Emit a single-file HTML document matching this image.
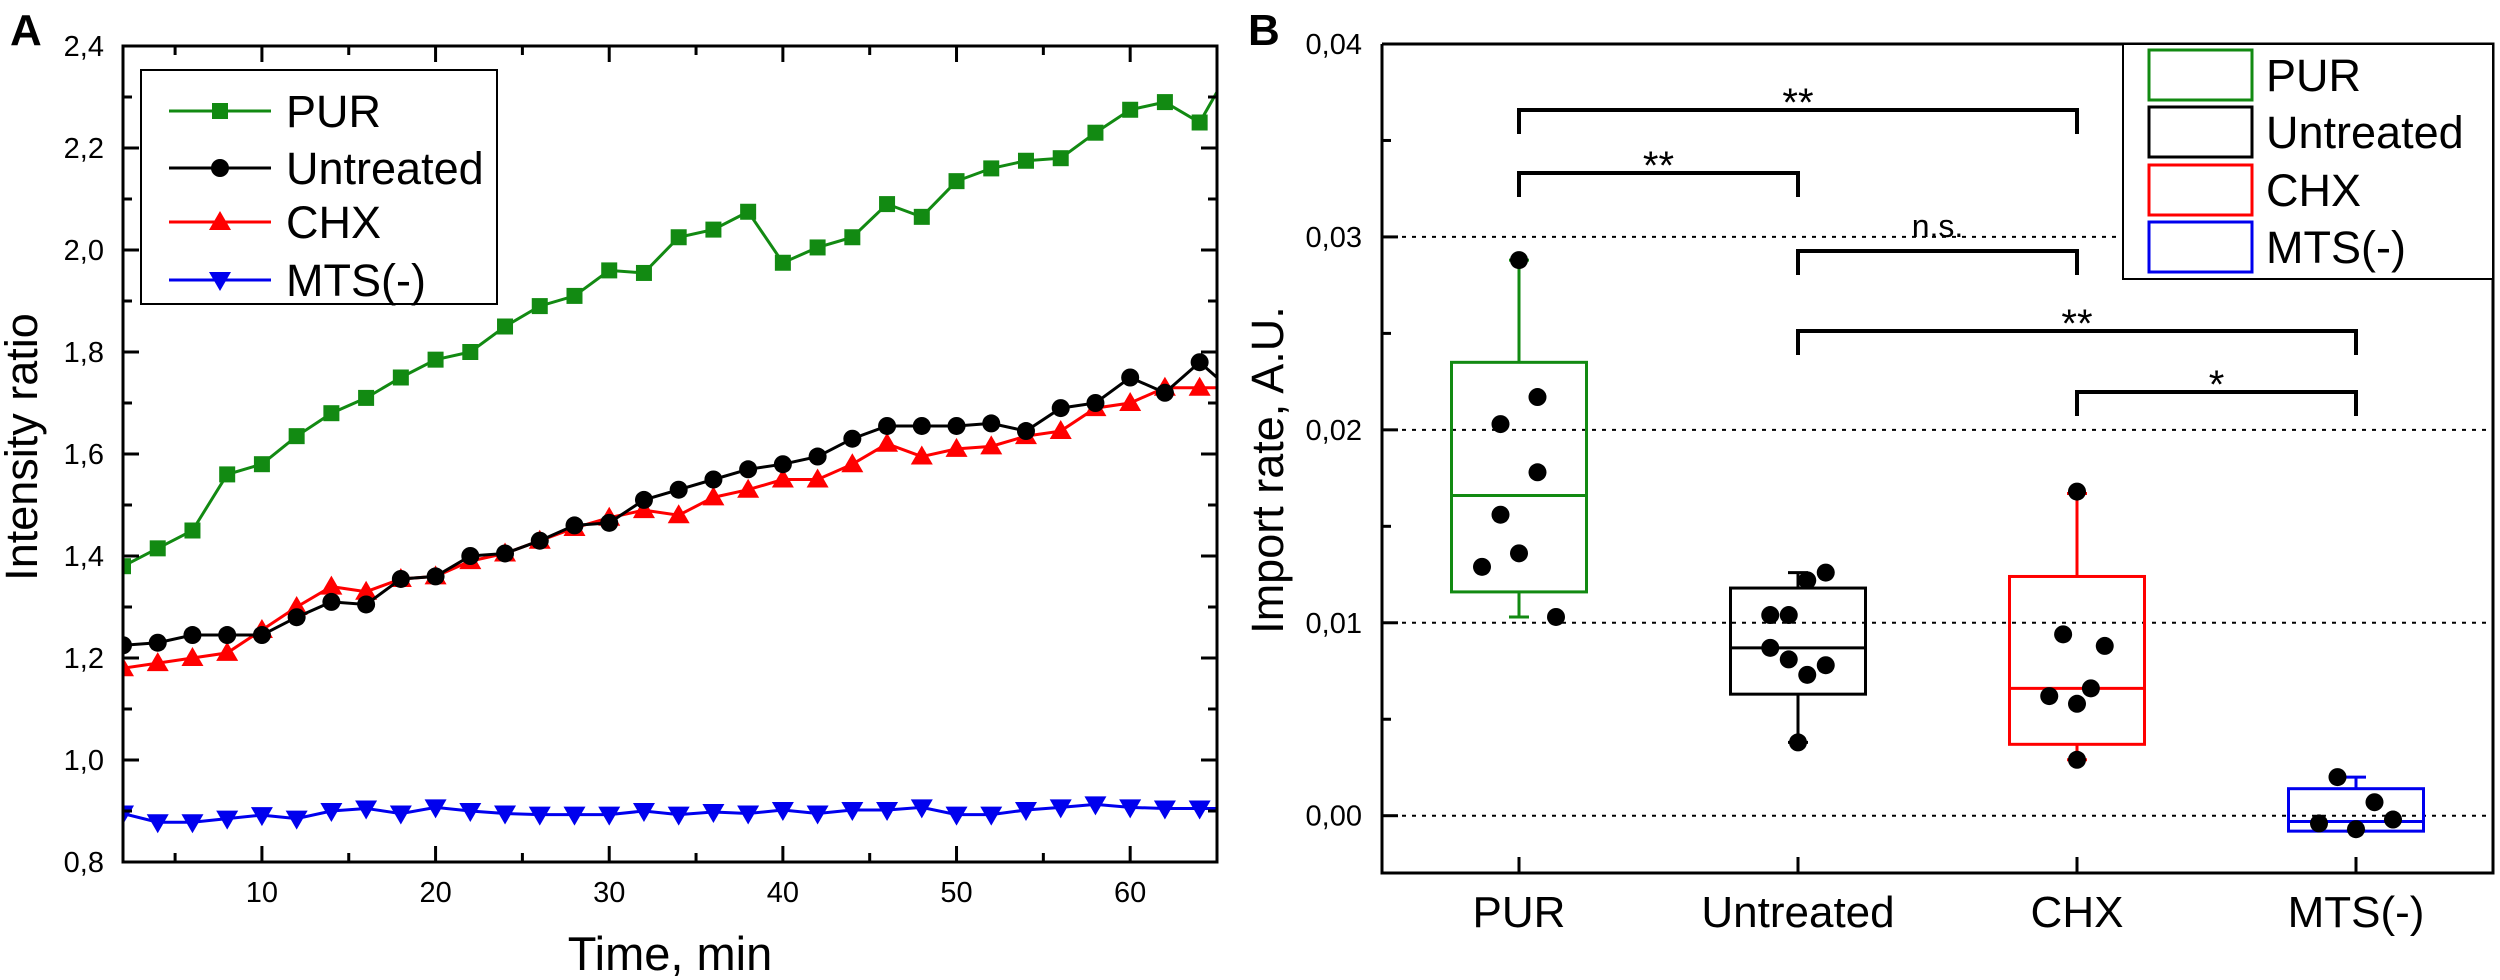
<!DOCTYPE html>
<html><head><meta charset="utf-8"><style>
html,body{margin:0;padding:0;background:#fff;}
svg{display:block;font-family:"Liberation Sans",Arial,sans-serif;}
</style></head><body>
<svg id="fig" width="2500" height="980" viewBox="0 0 2500 980">
<g id="pa"></g>
<g id="pb"></g>
</svg>
<script>
const NS='http://www.w3.org/2000/svg';
// ---- Panel A data ----
const timeA=[2,4,6,8,10,12,14,16,18,20,22,24,26,28,30,32,34,36,38,40,42,44,46,48,50,52,54,56,58,60,62,64,66];
const purA=[1.38,1.415,1.45,1.56,1.58,1.635,1.68,1.71,1.75,1.785,1.80,1.85,1.89,1.91,1.96,1.955,2.025,2.04,2.075,1.975,2.005,2.025,2.09,2.065,2.135,2.16,2.175,2.18,2.23,2.275,2.29,2.25,2.37];
const untA=[1.225,1.23,1.245,1.245,1.245,1.28,1.31,1.305,1.355,1.36,1.40,1.405,1.43,1.46,1.465,1.51,1.53,1.55,1.57,1.58,1.595,1.63,1.655,1.655,1.655,1.66,1.645,1.69,1.70,1.75,1.72,1.78,1.72];
const chxA=[1.18,1.19,1.20,1.21,1.255,1.30,1.34,1.33,1.355,1.36,1.39,1.405,1.43,1.455,1.475,1.49,1.48,1.515,1.53,1.55,1.55,1.58,1.62,1.595,1.61,1.615,1.635,1.645,1.69,1.70,1.73,1.73,1.73];
const mtsA=[0.895,0.878,0.878,0.885,0.892,0.885,0.90,0.905,0.895,0.907,0.90,0.895,0.893,0.893,0.893,0.90,0.893,0.898,0.895,0.902,0.895,0.902,0.902,0.907,0.893,0.893,0.902,0.907,0.913,0.907,0.905,0.905,0.905];
const yTicksA=[0.8,1.0,1.2,1.4,1.6,1.8,2.0,2.2,2.4];
const yTickLabelsA=['0,8','1,0','1,2','1,4','1,6','1,8','2,0','2,2','2,4'];
const xTicksA=[10,20,30,40,50,60];
const seriesNamesA=['PUR','Untreated','CHX','MTS(-)'];
// ---- Panel B data ----
const catsB=['PUR','Untreated','CHX','MTS(-)'];
const q1B=[0.0116,0.0063,0.0037,-0.0008];
const q3B=[0.0235,0.0118,0.0124,0.0014];
const medB=[0.0166,0.0087,0.0066,-0.0003];
const whLoB=[0.0103,0.0038,0.0029,-0.0008];
const whHiB=[0.0288,0.0126,0.0167,0.0020];
const ptsPUR=[0.0129,0.0203,0.0156,0.0136,0.0288,0.0217,0.0178,0.0103];
const jitPUR=[-2,-1,-1,0,0,1,1,2];
const ptsUNT=[0.0104,0.0104,0.0087,0.0081,0.0073,0.0078,0.0122,0.0126,0.0038];
const jitUNT=[-1.5,-0.5,-1.5,-0.5,0.5,1.5,0.5,1.5,0];
const ptsCHX=[0.0094,0.0088,0.0062,0.0058,0.0066,0.0168,0.0029];
const jitCHX=[-0.75,1.5,-1.5,0,0.75,0,0];
const ptsMTS=[0.0020,0.0007,-0.0004,-0.0007,-0.0002];
const jitMTS=[-1,1,-2,0,2];
const yTicksB=[0,0.01,0.02,0.03,0.04];
const yTickLabelsB=['0,00','0,01','0,02','0,03','0,04'];
const sigFrom=[0,0,1,1,2];
const sigTo=[2,1,2,3,3];
const sigLabel=['**','**','n.s.','**','*'];
const colors=['#128a12','#000000','#ff0000','#0000ee'];

function el(tag,attrs,parent){const e=document.createElementNS(NS,tag);for(const k in attrs)e.setAttribute(k,attrs[k]);parent.appendChild(e);return e;}
function txt(s,attrs,parent){const e=el('text',attrs,parent);e.textContent=s;return e;}

// ===== Panel A =====
const A=document.getElementById('pa');
const aL=123,aR=1217,aT=46,aB=862,xMinA=2,xMaxA=65,yMinA=0.8,yMaxA=2.4;
const xA=v=>aL+(v-xMinA)/(xMaxA-xMinA)*(aR-aL);
const yA=v=>aB-(v-yMinA)/(yMaxA-yMinA)*(aB-aT);
let t=txt('A',{x:10,y:45,'font-size':44,'font-weight':'bold'},A);

el('clipPath',{id:'clipA'},A).appendChild(document.createElementNS(NS,'rect'));
const cr=A.querySelector('#clipA rect');cr.setAttribute('x',aL);cr.setAttribute('y',aT);cr.setAttribute('width',aR-aL);cr.setAttribute('height',aB-aT);
const dataA=[purA,untA,chxA,mtsA];
const markers=['square','circle','tri','itri'];
function marker(kind,x,y,c,g){
  if(kind==='square')return el('rect',{x:x-8,y:y-8,width:16,height:16,fill:c},g);
  if(kind==='circle')return el('circle',{cx:x,cy:y,r:9,fill:c},g);
  if(kind==='tri')return el('polygon',{points:`${x},${y-11} ${x-11},${y+8} ${x+11},${y+8}`,fill:c},g);
  return el('polygon',{points:`${x},${y+11} ${x-11},${y-8} ${x+11},${y-8}`,fill:c},g);
}
const seriesG=el('g',{'clip-path':'url(#clipA)'},A);
[3,0,2,1].forEach(si=>{
  const g=el('g',{},seriesG);
  
  
  const d=dataA[si];
  el('polyline',{points:timeA.map((tt,i)=>xA(tt)+','+yA(d[i])).join(' '),fill:'none',stroke:colors[si],'stroke-width':3},g);
  timeA.forEach((tt,i)=>{const m=marker(markers[si],xA(tt),yA(d[i]),colors[si],g);
    });
});
// axes A
const axA=el('rect',{x:aL,y:aT,width:aR-aL,height:aB-aT,fill:'none',stroke:'#000','stroke-width':3},A);

yTicksA.forEach((v,i)=>{
  el('line',{x1:aL,x2:aL+16,y1:yA(v),y2:yA(v),stroke:'#000','stroke-width':3},A);
  el('line',{x1:aR,x2:aR-16,y1:yA(v),y2:yA(v),stroke:'#000','stroke-width':3},A);
  if(i<yTicksA.length-1){const m=v+0.1;el('line',{x1:aL,x2:aL+9,y1:yA(m),y2:yA(m),stroke:'#000','stroke-width':3},A);el('line',{x1:aR,x2:aR-9,y1:yA(m),y2:yA(m),stroke:'#000','stroke-width':3},A);}
  const l=txt(yTickLabelsA[i],{x:104,y:yA(v)+10,'font-size':29,'text-anchor':'end'},A);
  
});
[5,10,15,20,25,30,35,40,45,50,55,60,65].forEach(v=>{
  const major=v%10===0, len=major?16:9;
  el('line',{x1:xA(v),x2:xA(v),y1:aB,y2:aB-len,stroke:'#000','stroke-width':3},A);
  el('line',{x1:xA(v),x2:xA(v),y1:aT,y2:aT+len,stroke:'#000','stroke-width':3},A);
});
xTicksA.forEach(v=>{const l=txt(String(v),{x:xA(v),y:902,'font-size':29,'text-anchor':'middle'},A);
  });
t=txt('Time, min',{x:670,y:970,'font-size':47,'text-anchor':'middle'},A);

t=txt('Intensity ratio',{x:0,y:0,'font-size':45,'text-anchor':'middle',transform:'translate(37,447) rotate(-90)'},A);

// legend A
const lgA=el('g',{},A);
el('rect',{x:141,y:70,width:356,height:234,fill:'#fff',stroke:'#000','stroke-width':2},lgA);
[111,168,222,280].forEach((yy,i)=>{
  const g=el('g',{},lgA);
  el('line',{x1:169,x2:271,y1:yy,y2:yy,stroke:colors[i],'stroke-width':3},g);
  marker(markers[i],220,yy,colors[i],g);
  txt(seriesNamesA[i],{x:286,y:yy+16,'font-size':45},g);
});

// ===== Panel B =====
const B=document.getElementById('pb');
const bL=1382,bR=2493,bT=44,bB=873,yMinB=-0.00297,yMaxB=0.04;
const catX=[1519,1798,2077,2356];
const jitStep=18.5;
const yB=v=>bB-(v-yMinB)/(yMaxB-yMinB)*(bB-bT);
t=txt('B',{x:1248,y:45,'font-size':44,'font-weight':'bold'},B);

[0,0.01,0.02,0.03].forEach(v=>{const g=el('line',{x1:bL,x2:bR,y1:yB(v),y2:yB(v),stroke:'#000','stroke-width':2,'stroke-dasharray':'4 6'},B);
  });
const allPts=[ptsPUR,ptsUNT,ptsCHX,ptsMTS], allJit=[jitPUR,jitUNT,jitCHX,jitMTS];
catsB.forEach((c,i)=>{
  const g=el('g',{},B);
  const x=catX[i],w=135,col=colors[i];
  el('line',{x1:x,x2:x,y1:yB(whHiB[i]),y2:yB(q3B[i]),stroke:col,'stroke-width':3},g);
  el('line',{x1:x,x2:x,y1:yB(whLoB[i]),y2:yB(q1B[i]),stroke:col,'stroke-width':3},g);
  el('line',{x1:x-10,x2:x+10,y1:yB(whHiB[i]),y2:yB(whHiB[i]),stroke:col,'stroke-width':3},g);
  el('line',{x1:x-10,x2:x+10,y1:yB(whLoB[i]),y2:yB(whLoB[i]),stroke:col,'stroke-width':3},g);
  el('rect',{x:x-w/2,y:yB(q3B[i]),width:w,height:yB(q1B[i])-yB(q3B[i]),fill:'none',stroke:col,'stroke-width':3},g);
  el('line',{x1:x-w/2,x2:x+w/2,y1:yB(medB[i]),y2:yB(medB[i]),stroke:col,'stroke-width':3},g);
  allPts[i].forEach((v,j)=>{const d=el('circle',{cx:x+allJit[i][j]*jitStep,cy:yB(v),r:9,fill:'#000'},g);
    });
  const l=txt(c,{x:x,y:927,'font-size':44,'text-anchor':'middle'},B);
  
  el('line',{x1:x,x2:x,y1:bB,y2:bB-16,stroke:'#000','stroke-width':3},B);
});
const frB=el('path',{d:`M${bL},${bT} V${bB} H${bR} V${bT} H${bL}`,fill:'none',stroke:'#000','stroke-width':3},B);

yTicksB.forEach((v,i)=>{
  el('line',{x1:bL,x2:bL+16,y1:yB(v),y2:yB(v),stroke:'#000','stroke-width':3},B);
  if(i<yTicksB.length-1){el('line',{x1:bL,x2:bL+9,y1:yB(v+0.005),y2:yB(v+0.005),stroke:'#000','stroke-width':3},B);}
  const l=txt(yTickLabelsB[i],{x:1362,y:yB(v)+10,'font-size':29,'text-anchor':'end'},B);
  
});
t=txt('Import rate, A.U.',{x:0,y:0,'font-size':45,'text-anchor':'middle',transform:'translate(1283,470) rotate(-90)'},B);

// significance brackets
const brY=[110,173,251,331,392];
sigFrom.forEach((f,k)=>{
  const g=el('g',{},B);
  const x1=catX[f],x2=catX[sigTo[k]],y=brY[k];
  el('path',{d:`M${x1},${y+24} V${y} H${x2} V${y+24}`,fill:'none',stroke:'#000','stroke-width':4},g);
  const ns=sigLabel[k]==='n.s.';
  txt(sigLabel[k],{x:(x1+x2)/2,y:ns?y-14:y+6,'font-size':ns?32:40,'text-anchor':'middle'},g);
});
// legend B
const lgB=el('g',{},B);
el('rect',{x:2123,y:44,width:370,height:235,fill:'#fff',stroke:'#000','stroke-width':2},lgB);
[75,132,190,247].forEach((yy,i)=>{
  const g=el('g',{},lgB);
  el('rect',{x:2149,y:yy-25,width:103,height:50,fill:'none',stroke:colors[i],'stroke-width':3},g);
  txt(catsB[i],{x:2266,y:yy+16,'font-size':45},g);
});
</script>
</body></html>
